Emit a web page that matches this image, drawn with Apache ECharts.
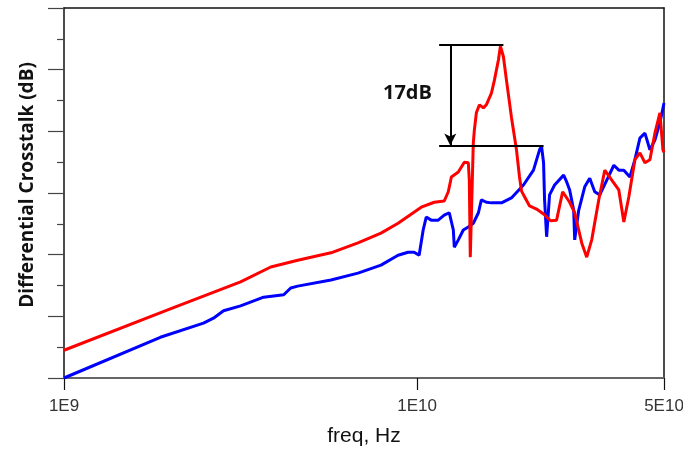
<!DOCTYPE html>
<html>
<head>
<meta charset="utf-8">
<script src="https://cdn.jsdelivr.net/npm/echarts@6/dist/echarts.min.js"></script>
<style>html,body{margin:0;padding:0;background:#fff;}#c{width:683px;height:461px;}</style>
</head>
<body>
<div id="c"></div>
<script>
// Frequencies in GHz, crosstalk in dB
const redFreqGHz = [1.0, 2.0, 3.162, 3.85, 4.59, 5.70, 6.80, 7.90, 8.83, 10.27, 11.18, 11.93, 12.25, 12.50, 13.08, 13.60, 13.96, 14.05, 14.14, 14.42, 14.52, 14.71, 15.01, 15.40, 15.70, 16.23, 16.55, 16.99, 17.21, 17.55, 17.90, 18.49, 19.11, 19.49, 19.75, 20.14, 20.81, 21.78, 22.80, 23.86, 24.82, 25.82, 27.03, 27.93, 29.24, 30.21, 31.21, 32.68, 33.98, 35.57, 37.24, 38.48, 39.76, 41.36, 42.73, 44.15, 45.61, 47.12, 48.69, 49.66, 50.0];
const redDb = [-95.5, -88.8, -84.4, -82.0, -80.9, -79.7, -78.1, -76.5, -74.9, -72.3, -71.5, -71.3, -69.8, -67.4, -66.6, -65.0, -65.1, -67.9, -80.4, -61.9, -59.8, -57.0, -55.7, -56.2, -55.7, -53.8, -51.7, -48.4, -46.2, -47.9, -51.7, -57.7, -63.0, -67.4, -69.7, -70.6, -72.1, -72.6, -73.4, -74.5, -74.4, -69.8, -71.5, -73.2, -78.1, -80.4, -77.6, -71.1, -66.3, -67.9, -69.5, -74.7, -70.6, -64.6, -63.5, -65.1, -64.6, -60.3, -57.0, -63.0, -63.4];

const blueFreqGHz = [1.0, 1.874, 2.483, 2.650, 2.830, 3.162, 3.675, 4.190, 4.385, 4.59, 5.70, 6.80, 7.90, 8.83, 9.427, 9.806, 10.13, 10.40, 10.61, 10.96, 11.47, 11.93, 12.33, 12.66, 12.74, 13.08, 13.51, 13.96, 14.42, 14.91, 15.20, 15.70, 16.23, 17.33, 18.49, 20.0, 21.35, 22.21, 22.50, 22.80, 22.95, 23.26, 23.71, 24.50, 25.99, 26.51, 27.03, 27.75, 27.93, 28.67, 29.82, 30.81, 31.83, 32.89, 34.43, 36.05, 37.24, 38.48, 40.03, 41.36, 42.73, 44.15, 45.02, 45.61, 47.12, 48.69, 50.0];
const blueDb = [-100.0, -93.4, -91.1, -90.3, -89.1, -88.3, -86.9, -86.5, -85.4, -85.1, -84.1, -83.0, -81.7, -80.1, -79.6, -79.6, -80.1, -76.0, -73.9, -74.4, -74.4, -73.6, -73.2, -76.0, -78.8, -77.6, -76.0, -75.5, -74.9, -73.2, -71.1, -71.5, -71.6, -71.6, -70.8, -68.7, -66.3, -63.0, -62.4, -65.1, -71.1, -77.1, -70.3, -68.7, -67.1, -68.2, -69.5, -72.8, -77.6, -72.8, -69.0, -67.6, -69.8, -70.3, -67.9, -65.5, -66.3, -66.3, -67.4, -64.6, -61.1, -60.3, -61.9, -63.0, -61.4, -58.6, -55.4];

const xTickValues = [1e9, 1e10, 5e10];
const xTickLabels = ['1E9', '1E10', '5E10'];

// Annotation (17 dB difference between peaks)
const peakRedDb = -46.0;
const peakBlueDb = -62.3;
const annotLeftGHz = 11.54;
const annotTopRightGHz = 17.55;
const annotBottomRightGHz = 22.8;
const arrowGHz = 12.41;
const annotText = '17dB';

const GHz = 1e9;
const toPairs = (f, v) => f.map((x, i) => [x * GHz, v[i]]);

const chart = echarts.init(document.getElementById('c'), null, {renderer: 'canvas'});
chart.setOption({
  animation: false,
  backgroundColor: '#fff',
  grid: {left: 64, right: 19, top: 8, bottom: 83, containLabel: false, outerBoundsMode: 'none'},
  xAxis: [{
    type: 'log', logBase: 10, min: 1e9, max: 5e10,
    name: 'freq, Hz', nameLocation: 'middle', nameGap: 48,
    nameTextStyle: {fontFamily: 'Liberation Sans', fontSize: 21, color: '#111'},
    axisLine: {show: true, onZero: false, lineStyle: {color: '#666', width: 2}},
    axisTick: {show: true, length: 12, lineStyle: {color: '#111', width: 1.2}, customValues: xTickValues},
    minorTick: {show: false},
    splitLine: {show: false},
    axisLabel: {
      show: true, margin: 20, fontFamily: 'Liberation Sans', fontSize: 17, color: '#333',
      customValues: xTickValues, hideOverlap: false,
      formatter: function (v) {
        let best = 0, bd = Infinity;
        xTickValues.forEach((t, i) => { const d = Math.abs(Math.log10(v) - Math.log10(t)); if (d < bd) { bd = d; best = i; } });
        return xTickLabels[best];
      }
    }
  }, {
    type: 'log', logBase: 10, min: 1e9, max: 5e10, position: 'top',
    axisLine: {show: true, onZero: false, lineStyle: {color: '#111', width: 1.5}},
    axisTick: {show: false}, axisLabel: {show: false}, splitLine: {show: false}
  }],
  yAxis: [{
    type: 'value', min: -100, max: -40, interval: 10,
    name: 'Differential Crosstalk (dB)', nameLocation: 'middle', nameGap: 27,
    nameTextStyle: {fontFamily: 'Open Sans', fontSize: 19, fontWeight: 'bold', color: '#111', padding: [0, 0, 0, 16]},
    axisLine: {show: true, onZero: false, lineStyle: {color: '#111', width: 1.5}},
    axisTick: {show: true, length: 16, lineStyle: {color: '#444', width: 1.2}},
    minorTick: {show: true, splitNumber: 2, length: 7, lineStyle: {color: '#444', width: 1.2}},
    axisLabel: {show: false},
    splitLine: {show: false}
  }, {
    type: 'value', min: -100, max: -40, position: 'right',
    axisLine: {show: true, onZero: false, lineStyle: {color: '#111', width: 1.5}},
    axisTick: {show: false}, axisLabel: {show: false}, splitLine: {show: false}
  }],
  series: [{
    type: 'line', name: 'blue', data: toPairs(blueFreqGHz, blueDb),
    showSymbol: false, lineStyle: {color: '#0000ff', width: 3}, itemStyle: {color: '#0000ff'}, z: 2
  }, {
    type: 'line', name: 'red', data: toPairs(redFreqGHz, redDb),
    showSymbol: false, lineStyle: {color: '#ff0000', width: 3}, itemStyle: {color: '#ff0000'}, z: 3,
    markLine: {
      silent: true, animation: false, symbol: ['none', 'none'],
      label: {show: false},
      lineStyle: {color: '#000', width: 2, type: 'solid'},
      data: [
        [{coord: [annotLeftGHz * GHz, peakRedDb]}, {coord: [annotTopRightGHz * GHz, peakRedDb]}],
        [{coord: [annotLeftGHz * GHz, peakBlueDb]}, {coord: [annotBottomRightGHz * GHz, peakBlueDb]}],
        [{coord: [arrowGHz * GHz, peakRedDb], symbol: 'none'}, {coord: [arrowGHz * GHz, peakBlueDb], symbol: 'arrow', symbolSize: [9, 12]}]
      ]
    }
  }],
  graphic: [{
    type: 'text', left: 383, top: 83,
    style: {text: annotText, fontFamily: 'Open Sans', fontSize: 20, fontWeight: 'bold', fill: '#111'}
  }]
});
</script>
</body>
</html>
